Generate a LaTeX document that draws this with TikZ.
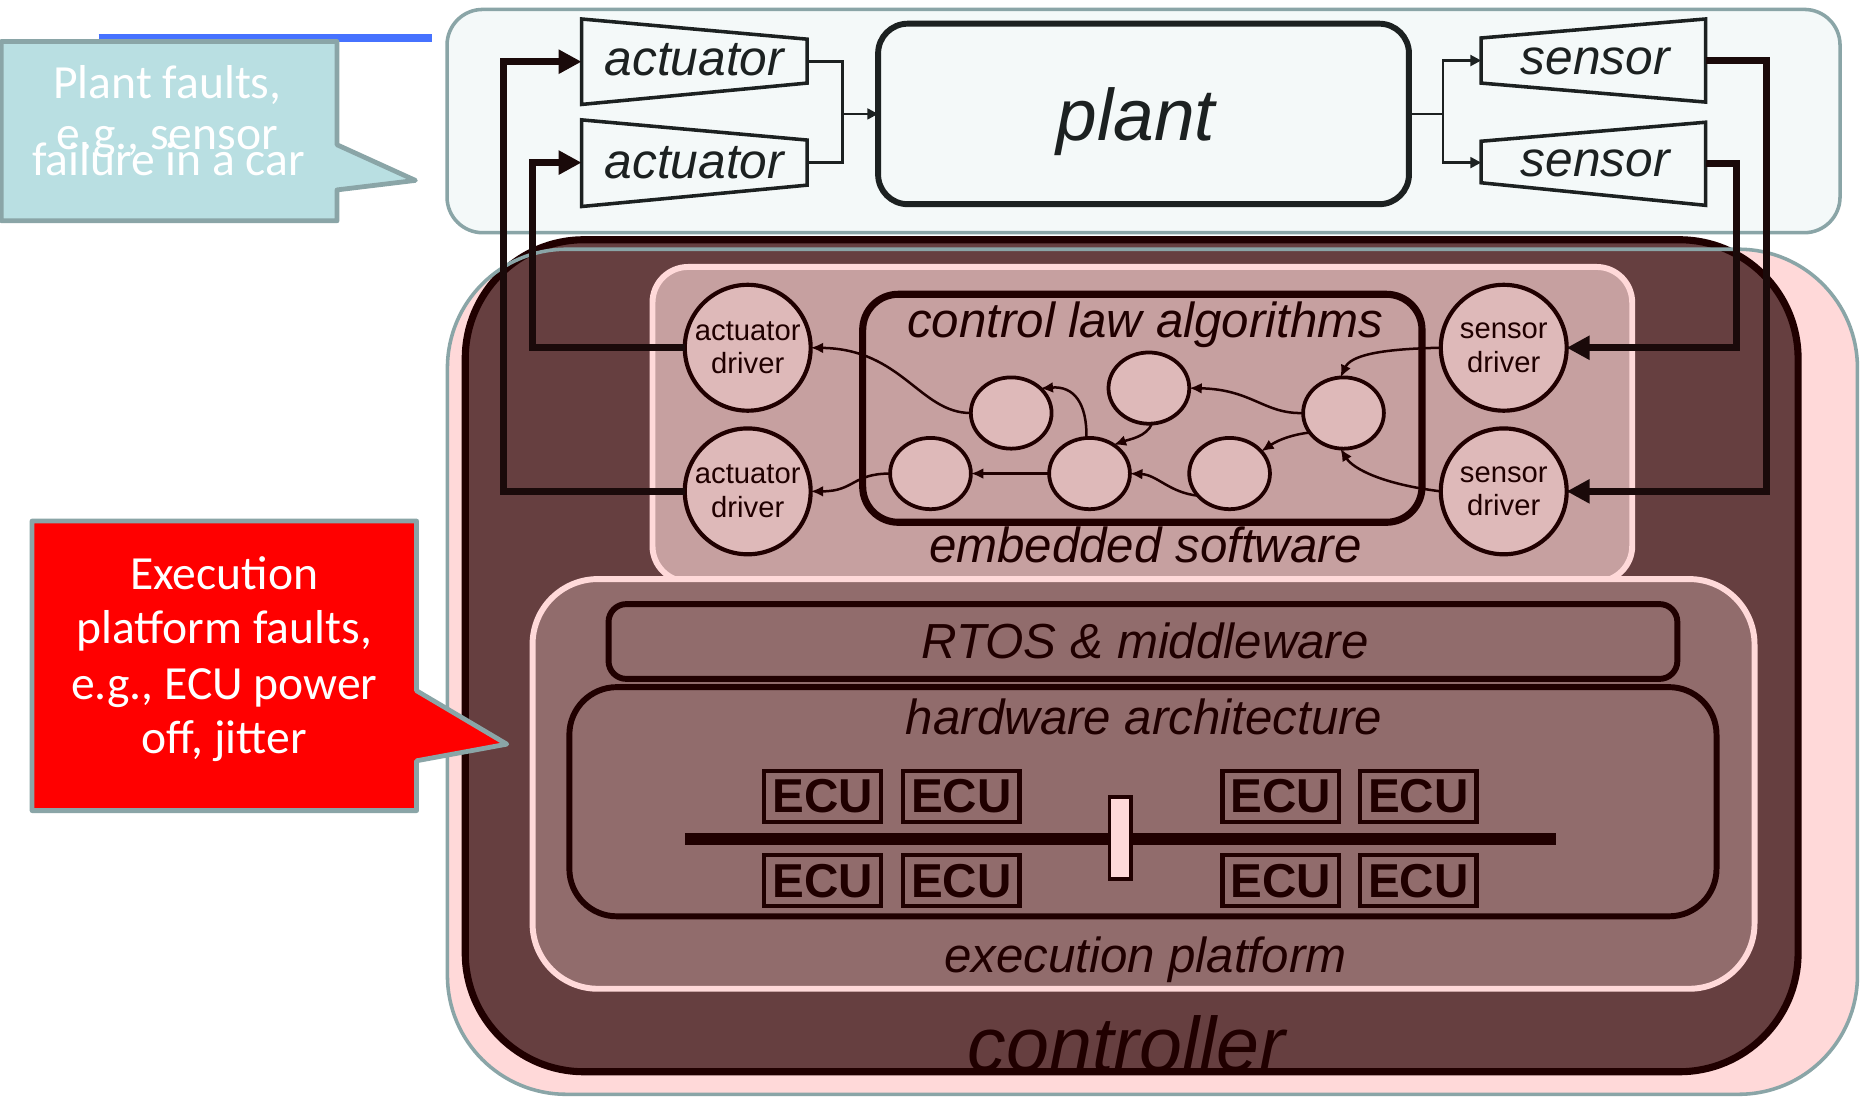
\documentclass[tikz,border=0pt]{standalone}
\usepackage{fontspec}
\setmainfont{Liberation Sans}
\newfontfamily\calib{Carlito}
\usetikzlibrary{arrows.meta,shapes.geometric}
\definecolor{plantbg}{HTML}{F4F9F9}
\definecolor{tealb}{HTML}{8AA5A7}
\definecolor{callbg}{HTML}{B9DFE2}
\definecolor{pinkl}{HTML}{FFD9D9}
\definecolor{maroonc}{HTML}{663F40}
\definecolor{embfill}{HTML}{C6A0A0}
\definecolor{circfill}{HTML}{DEB9B9}
\definecolor{execfill}{HTML}{916C6C}
\definecolor{darkl}{HTML}{200000}
\definecolor{inkb}{HTML}{1C2121}
\definecolor{fbcol}{HTML}{1A0A0A}
\definecolor{bluel}{HTML}{4672FF}
\definecolor{bluesq}{HTML}{A3B5F2}
\definecolor{redc}{HTML}{FF0000}
\newcommand\fsz[2]{\fontsize{#1}{#2}\selectfont}
\begin{document}
\begin{tikzpicture}[x=0.01cm,y=-0.01cm,
 every node/.style={inner sep=0pt, outer sep=0pt},
 trap/.style={draw=inkb, line width=0.85pt, fill=plantbg, line join=miter},
 ptxt/.style={anchor=base, text=inkb, font=\fsz{11.9}{12}\itshape},
 ctxt/.style={anchor=base, text=darkl, font=\fsz{11.8}{12}\itshape},
 drv/.style={circle, draw=darkl, line width=1pt, fill=circfill, minimum size=1.06cm, align=center, text=darkl, font=\fsz{7}{8}},
 ell/.style={ellipse, draw=darkl, line width=0.9pt, fill=circfill, minimum width=0.68cm, minimum height=0.60cm},
 ecu/.style={draw=darkl, line width=1pt, minimum width=0.98cm, minimum height=0.43cm, text=darkl, font=\fsz{11.4}{12}\bfseries},
 thinarr/.style={draw=darkl, line width=0.6pt, -{Latex[length=3pt,width=2.6pt]}},
 pconn/.style={draw=inkb, line width=0.6pt},
 parr/.style={pconn, -{Triangle[length=2.6pt,width=2.6pt]}},
 fbline/.style={draw=fbcol, line width=1.7pt, line join=miter},
 fbarr/.style={fbline, -{Triangle[length=5.5pt,width=5.5pt]}},
 calltxt/.style={anchor=base, text=white, font=\calib\fsz{11.4}{12}},
]
\useasboundingbox (0,0) rectangle (1568,924);
\fill[white] (0,0) rectangle (1568,924);

% decorations at top
\draw[bluel, line width=1.7pt] (83,32) -- (364,32);
\fill[bluesq] (1523,30) rectangle (1538,36);

% controller layers
\fill[pinkl, rounded corners=1cm] (377,210) rectangle (1565,922);
\fill[maroonc, rounded corners=1cm] (392,202) rectangle (1515,903);
\node[anchor=base, text=darkl, font=\fsz{18.5}{19}\itshape] (ctrl) at (949,903) {controller};
\draw[darkl, line width=1.7pt, rounded corners=1cm] (392,202) rectangle (1515,903);
\draw[tealb, line width=0.85pt, rounded corners=1cm] (377,210) rectangle (1565,922);

% embedded software and execution platform
\node[draw=pinkl, fill=embfill, line width=1.42pt, rounded corners=0.3cm, minimum width=8.25cm, minimum height=2.65cm] (emb) at (962.5,357.5) {};
\node[draw=pinkl, fill=execfill, line width=1.42pt, rounded corners=0.55cm, minimum width=10.29cm, minimum height=3.45cm] (exec) at (963.5,660.5) {};
\node[draw=darkl, fill=execfill, line width=1.42pt, rounded corners=0.15cm, minimum width=9.0cm, minimum height=0.63cm] (rtos) at (963,540.5) {};
\node[draw=darkl, fill=execfill, line width=1.42pt, rounded corners=0.4cm, minimum width=9.66cm, minimum height=1.93cm] (hw) at (963,675.5) {};
\node[ctxt] (rtost) at (965,555) {RTOS \& middleware};
\node[ctxt] (hwt) at (964,619) {hardware architecture};
\node[ctxt] (exect) at (965,819) {execution platform};
\node[ctxt] (embt) at (965,474) {embedded software};

% bus and ECUs
\coordinate (busL) at (577,707);
\coordinate (busR) at (1311,707);
\draw[darkl, line width=2.85pt] (busL) -- (busR);
\node[draw=darkl, fill=pinkl, line width=0.8pt, minimum width=0.18cm, minimum height=0.69cm] (brg) at (944,706) {};
\node[ecu] (ecu1) at (693,671) {ECU};
\node[ecu] (ecu2) at (810,671) {ECU};
\node[ecu] (ecu3) at (1079,671) {ECU};
\node[ecu] (ecu4) at (1195,671) {ECU};
\node[ecu] (ecu5) at (693,742) {ECU};
\node[ecu] (ecu6) at (810,742) {ECU};
\node[ecu] (ecu7) at (1079,742) {ECU};
\node[ecu] (ecu8) at (1195,742) {ECU};

% control law algorithms
\node[draw=darkl, fill=embfill, line width=1.7pt, rounded corners=0.3cm, minimum width=4.71cm, minimum height=1.92cm] (clbox) at (962.5,344) {};
\node[ctxt] (clt) at (965,284) {control law algorithms};
\node[ell] (e1) at (852,348) {};
\node[ell] (e2) at (968,327) {};
\node[ell] (e3) at (1132,348) {};
\node[ell] (e4) at (918,399) {};
\node[ell] (e5) at (1036,399) {};
\node[ell] (e6) at (784,399) {};

% drivers
\node[drv] (ad1) at (630,293) {actuator\\driver};
\node[drv] (ad2) at (630,414) {actuator\\driver};
\node[drv] (sd1) at (1267,293) {sensor\\driver};
\node[drv] (sd2) at (1267,414) {sensor\\driver};

% arrows inside software
\draw[thinarr] (e3.west) .. controls (1065,349) and (1055,328) .. (e2.east);
\draw[thinarr] (e3.210) .. controls (1090,366) and (1078,370) .. (e5.35);
\draw[thinarr] (e2.-85) .. controls (966,368) and (952,370) .. (e4.50);
\draw[thinarr] (e4.95) .. controls (916,340) and (905,325) .. (e1.40);
\draw[thinarr] (e5.215) .. controls (985,415) and (975,400) .. (e4.east);
\draw[thinarr] (e4.west) -- (e6.east);
\draw[thinarr] (sd1.west) .. controls (1160,294) and (1138,300) .. (e3.95);
\draw[thinarr] (sd2.west) .. controls (1165,408) and (1140,395) .. (e3.-95);
\draw[thinarr] (e1.west) .. controls (775,348) and (760,294) .. (ad1.east);
\draw[thinarr] (e6.west) .. controls (718,399) and (720,414) .. (ad2.east);

% plant region
\node[draw=tealb, fill=plantbg, line width=0.85pt, rounded corners=0.3cm, minimum width=11.73cm, minimum height=1.88cm] (plantreg) at (963.5,102) {};
\draw[trap] (490,16) -- (680,33) -- (680,70) -- (490,88) -- cycle;
\draw[trap] (490,101) -- (680,118) -- (680,156) -- (490,174) -- cycle;
\draw[trap] (1248,32) -- (1437,16) -- (1437,86) -- (1248,70) -- cycle;
\draw[trap] (1248,119) -- (1437,103) -- (1437,173) -- (1248,154) -- cycle;
\node[ptxt] (act1) at (585,64) {actuator};
\node[ptxt] (act2) at (585,150) {actuator};
\node[ptxt] (sen1) at (1344,63) {sensor};
\node[ptxt] (sen2) at (1344,149) {sensor};
\node[draw=inkb, fill=plantbg, line width=1.42pt, rounded corners=0.25cm, minimum width=4.47cm, minimum height=1.52cm] (plant) at (963.5,96) {};
\node[anchor=base, text=inkb, font=\fsz{17.5}{18}\itshape] (plantt) at (957,118) {plant};

\coordinate (act1in) at (490,52);
\coordinate (act2in) at (490,137);
\coordinate (act1out) at (680,52);
\coordinate (act2out) at (680,137);
\coordinate (sen1in) at (1248,51);
\coordinate (sen2in) at (1248,137);
\coordinate (sen1out) at (1437,51);
\coordinate (sen2out) at (1437,138);
\coordinate (mergeA) at (710,96);
\coordinate (splitS) at (1216,96);

\draw[pconn] (act1out) -| (mergeA);
\draw[pconn] (act2out) -| (mergeA);
\draw[parr] (mergeA) -- (plant.west);
\draw[pconn] (plant.east) -- (splitS);
\draw[parr] (splitS) |- (sen1in);
\draw[parr] (splitS) |- (sen2in);

% feedback loops
\coordinate (lo1) at (424,52);
\coordinate (li1) at (449,137);
\coordinate (ri1) at (1463,138);
\coordinate (ro1) at (1488,51);
\draw[fbarr] (ad2.west) -| (lo1) -- (act1in);
\draw[fbarr] (ad1.west) -| (li1) -- (act2in);
\draw[fbarr] (sen2out) -- (ri1) |- (sd1.east);
\draw[fbarr] (sen1out) -- (ro1) |- (sd2.east);

% callouts
\draw[fill=callbg, draw=tealb, line width=1.14pt, line join=round] (1,35) -- (284,35) -- (284,122) -- (350,152) -- (284,160) -- (284,186) -- (1,186) -- cycle;
\node[calltext/.style={}, calltxt] (pf1) at (141,83) {Plant faults,};
\node[calltxt] (pf2) at (141,126) {e.g., sensor};
\node[calltxt] (pf3) at (142,148) {failure in a car};

\draw[fill=redc, draw=tealb, line width=1.14pt, line join=round] (27,439) -- (351,439) -- (351,582) -- (427,627) -- (351,641) -- (351,683) -- (27,683) -- cycle;
\node[calltxt] (ef1) at (189,497) {Execution};
\node[calltxt] (ef2) at (189,542) {platform faults,};
\node[calltxt] (ef3) at (189,589) {e.g., ECU power};
\node[calltxt] (ef4) at (189,635) {off, jitter};
\end{tikzpicture}
\end{document}
